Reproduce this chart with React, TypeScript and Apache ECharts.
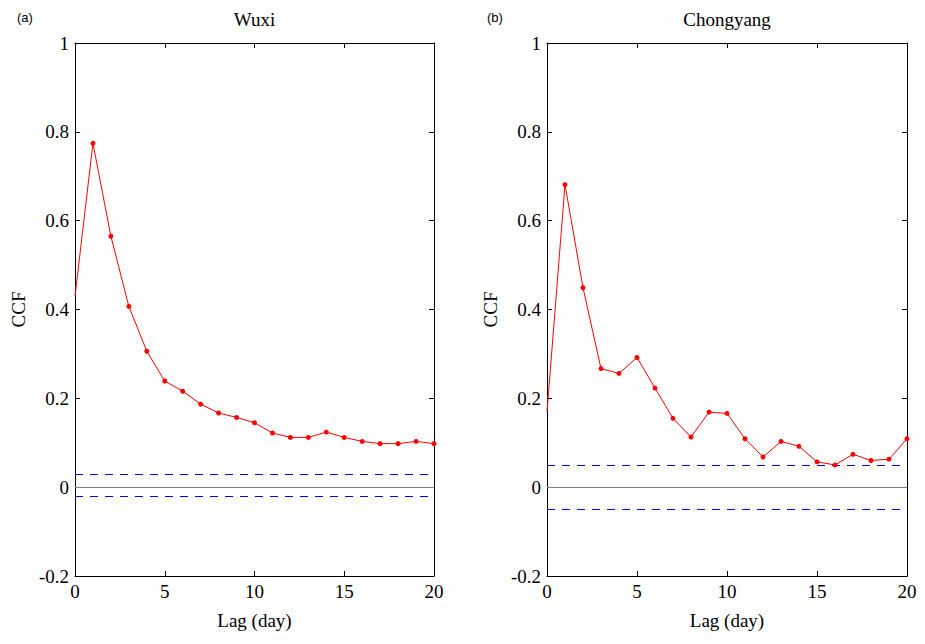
import React, { useEffect, useRef } from "react";
import * as echarts from "echarts";

// Lag in days
const lags = [0, 1, 2, 3, 4, 5, 6, 7, 8, 9, 10, 11, 12, 13, 14, 15, 16, 17, 18, 19, 20];

// Cross-correlation function values per station
const wuxiCcf = [0.43, 0.774, 0.565, 0.407, 0.306, 0.239, 0.216, 0.187, 0.167, 0.157, 0.145, 0.122, 0.112, 0.112, 0.124, 0.112, 0.103, 0.098, 0.098, 0.103, 0.098];
const chongyangCcf = [0.17, 0.681, 0.449, 0.267, 0.256, 0.292, 0.223, 0.155, 0.113, 0.169, 0.166, 0.109, 0.068, 0.103, 0.092, 0.057, 0.05, 0.074, 0.06, 0.063, 0.109];

// Confidence bounds (upper, lower) per station
const wuxiBounds = [0.026, -0.022];
const chongyangBounds = [0.053, -0.05];

const panelTitles = ["Wuxi", "Chongyang"];
const panelTags = ["(a)", "(b)"];

const SERIF = "Liberation Serif, Times New Roman, serif";

function App() {
  const ref = useRef<HTMLDivElement>(null);

  useEffect(() => {
    if (!ref.current) return;
    const chart = echarts.init(ref.current, null, { renderer: "svg" });

    const grids = [
      { left: 75, top: 43, width: 359, height: 533 },
      { left: 547, top: 43, width: 360, height: 533 },
    ];

    const tick = { show: true, inside: true, length: 5, lineStyle: { color: "#000", width: 1 } };
    const line = { show: true, onZero: false, lineStyle: { color: "#000", width: 1 } };
    const label = { fontFamily: SERIF, fontSize: 19, color: "#000", margin: 6 };

    const xAxis: any[] = [];
    const yAxis: any[] = [];
    grids.forEach((_, i) => {
      xAxis.push({
        type: "value", gridIndex: i, min: 0, max: 20, interval: 5, position: "bottom",
        axisLine: line, axisTick: tick, axisLabel: label, splitLine: { show: false },
      });
      xAxis.push({
        type: "value", gridIndex: i, min: 0, max: 20, interval: 5, position: "top",
        axisLine: line, axisTick: tick, axisLabel: { show: false }, splitLine: { show: false },
      });
      yAxis.push({
        type: "value", gridIndex: i, min: -0.2, max: 1, interval: 0.2, position: "left",
        axisLine: line, axisTick: tick, axisLabel: label, splitLine: { show: false },
      });
      yAxis.push({
        type: "value", gridIndex: i, min: -0.2, max: 1, interval: 0.2, position: "right",
        axisLine: line, axisTick: tick, axisLabel: { show: false }, splitLine: { show: false },
      });
    });

    const makeSeries = (values: number[], bounds: number[], i: number) => ({
      type: "line",
      xAxisIndex: i * 2,
      yAxisIndex: i * 2,
      data: lags.map((lag, k) =>
        k === 0 ? { value: [lag, values[k]], symbol: "none" } : { value: [lag, values[k]] }
      ),
      symbol: "circle",
      symbolSize: 5,
      showSymbol: true,
      itemStyle: { color: "#ff0000" },
      lineStyle: { color: "#ff0000", width: 1 },
      z: 5,
      markLine: {
        silent: true,
        symbol: ["none", "none"],
        label: { show: false },
        emphasis: { disabled: true },
        data: [
          { yAxis: 0, lineStyle: { color: "#808080", width: 1, type: "solid" } },
          { yAxis: bounds[0], lineStyle: { color: "#0000ff", width: 1, type: [8, 7] } },
          { yAxis: bounds[1], lineStyle: { color: "#0000ff", width: 1, type: [8, 7] } },
        ],
      },
    });

    const graphic: any[] = [];
    grids.forEach((g, i) => {
      const cx = g.left + g.width / 2;
      graphic.push({
        type: "text", x: cx, y: 19,
        style: { text: panelTitles[i], font: `19px ${SERIF}`, fill: "#000", textAlign: "center", textVerticalAlign: "middle" },
      });
      graphic.push({
        type: "text", x: i === 0 ? 17 : 487, y: 17,
        style: { text: panelTags[i], font: "13px Liberation Sans, Arial, sans-serif", fill: "#000", textAlign: "left", textVerticalAlign: "middle" },
      });
      graphic.push({
        type: "text", x: cx, y: 620,
        style: { text: "Lag (day)", font: `19px ${SERIF}`, fill: "#000", textAlign: "center", textVerticalAlign: "middle" },
      });
      graphic.push({
        type: "text", x: g.left - 56.5, y: g.top + g.height / 2, rotation: Math.PI / 2,
        style: { text: "CCF", font: `19px ${SERIF}`, fill: "#000", textAlign: "center", textVerticalAlign: "middle" },
      });
    });

    chart.setOption({
      animation: false,
      backgroundColor: "#fff",
      grid: grids,
      xAxis,
      yAxis,
      series: [makeSeries(wuxiCcf, wuxiBounds, 0), makeSeries(chongyangCcf, chongyangBounds, 1)],
      graphic,
    });

    return () => chart.dispose();
  }, []);

  return <div ref={ref} style={{ width: 925, height: 644, position: "absolute", left: 0, top: 0 }} />;
}

export default App;
